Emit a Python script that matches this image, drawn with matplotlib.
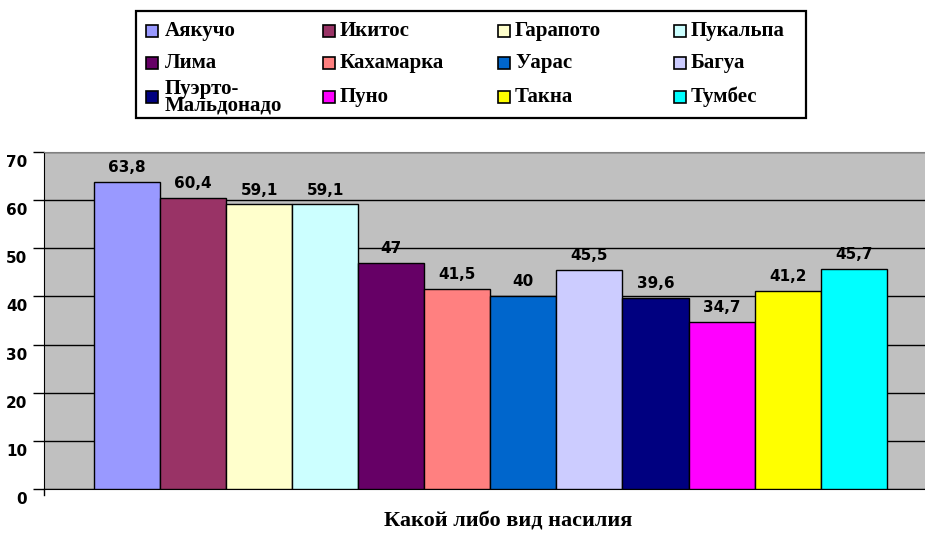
import numpy as np
import matplotlib
matplotlib.use('Agg')
import matplotlib.pyplot as plt
from matplotlib.patches import Rectangle
from matplotlib.transforms import ScaledTranslation

cities = ['Аякучо', 'Икитос', 'Гарапото', 'Пукальпа',
          'Лима', 'Кахамарка', 'Уарас', 'Багуа',
          'Пуэрто-\nМальдонадо', 'Пуно', 'Такна', 'Тумбес']
values = [63.8, 60.4, 59.1, 59.1, 47, 41.5, 40, 45.5, 39.6, 34.7, 41.2, 45.7]
colors = ['#9999FF', '#993366', '#FFFFCC', '#CCFFFF',
          '#660066', '#FF8080', '#0066CC', '#CCCCFF',
          '#000080', '#FF00FF', '#FFFF00', '#00FFFF']
yticks = [0, 10, 20, 30, 40, 50, 60, 70]
xlabel = 'Какой либо вид насилия'

W, H = 925, 535
fig = plt.figure(figsize=(W / 100, H / 100), dpi=100)

# plot area in pixel terms
left, right, top, bottom = 44, 925, 152, 489
ax = fig.add_axes([left / W, 1 - bottom / H, (right - left) / W, (bottom - top) / H])
ax.set_facecolor('#C0C0C0')

x = np.arange(len(values))
ax.bar(x, values, width=1.0, color=colors, edgecolor='black', linewidth=1.0, zorder=3)
for xi, v in zip(x, values):
    ax.annotate(f'{v:g}'.replace('.', ','), (xi, v), xytext=(0, 5), textcoords='offset points',
                ha='center', va='bottom', fontsize=11, fontweight='bold',
                family='DejaVu Sans', zorder=4)

ax.set_ylim(0, 70)
ax.set_xlim(-1.257, 12.08)
ax.set_yticks(yticks)
ax.set_yticklabels([str(t) for t in yticks], fontsize=11, fontweight='bold', family='DejaVu Sans')
ax.yaxis.grid(True, color='black', linewidth=1.0, zorder=1)
ax.set_axisbelow(True)
ax.set_xticks([])
ax.tick_params(axis='y', direction='out', length=8, width=1.0, pad=4, color='black')
for lab in ax.get_yticklabels():
    lab.set_transform(lab.get_transform() + ScaledTranslation(0, -0.09, fig.dpi_scale_trans))
ax.spines['top'].set_color('#808080')
ax.spines['right'].set_visible(False)
ax.spines['left'].set_color('black')
ax.spines['bottom'].set_color('black')

# y axis line runs a little past zero
fig.add_artist(plt.Line2D([left / W, left / W], [1 - bottom / H, 1 - (bottom + 6) / H],
                          color='black', linewidth=1.0))

fig.text(508 / W, 1 - 522 / H, xlabel, ha='center', va='center',
         fontsize=16, fontweight='bold', family='Liberation Serif')

# legend box
bx0, by0, bx1, by1 = 136, 11, 806, 118
fig.add_artist(Rectangle((bx0 / W, 1 - by1 / H), (bx1 - bx0) / W, (by1 - by0) / H,
                         transform=fig.transFigure, facecolor='white',
                         edgecolor='black', linewidth=1.6))
col_marker = [146, 323, 498, 674]
col_text = [165, 340, 515, 691]
row_y = [31, 63, 97]
msize = 12
for i, (name, c) in enumerate(zip(cities, colors)):
    r, k = divmod(i, 4)
    mx, my = col_marker[k], row_y[r]
    fig.add_artist(Rectangle((mx / W, 1 - (my + msize / 2) / H), msize / W, msize / H,
                             transform=fig.transFigure, facecolor=c,
                             edgecolor='black', linewidth=1.2))
    fig.text(col_text[k] / W, 1 - my / H, name, ha='left', va='center',
             fontsize=15, fontweight='bold', family='Liberation Serif',
             linespacing=0.75)

fig.savefig('out.png', dpi=100)
